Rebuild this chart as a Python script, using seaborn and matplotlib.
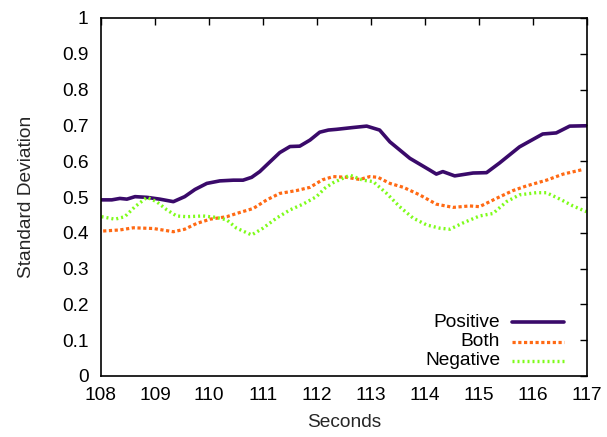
import matplotlib
matplotlib.use("Agg")
import matplotlib.pyplot as plt
from matplotlib.lines import Line2D
import seaborn as sns
import pandas as pd

pos_x = [108.01, 108.2, 108.35, 108.48, 108.63, 108.85, 109.09, 109.34, 109.55, 109.74, 109.96,
         110.2, 110.45, 110.63, 110.79, 110.94, 111.1, 111.31, 111.5, 111.68, 111.87, 112.05,
         112.21, 112.36, 112.66, 112.92, 113.16, 113.35, 113.72, 114.09, 114.21, 114.33, 114.55,
         114.89, 115.14, 115.38, 115.75, 116.18, 116.43, 116.68, 116.99]
pos_y = [0.492, 0.492, 0.496, 0.494, 0.501, 0.499, 0.494, 0.487, 0.501, 0.521, 0.538,
         0.545, 0.547, 0.547, 0.555, 0.571, 0.594, 0.624, 0.641, 0.642, 0.659, 0.681,
         0.687, 0.689, 0.694, 0.698, 0.687, 0.654, 0.608, 0.575, 0.564, 0.571, 0.559,
         0.567, 0.568, 0.595, 0.640, 0.676, 0.679, 0.698, 0.699]

both_x = [108.04, 108.35, 108.6, 108.97, 109.34, 109.55, 109.77, 110.02, 110.33, 110.51, 110.82,
          111.07, 111.31, 111.62, 111.87, 112.1, 112.3, 112.55, 112.79, 112.98, 113.13, 113.35,
          113.6, 113.9, 114.21, 114.52, 114.83, 115.01, 115.32, 115.63, 115.88, 116.25, 116.56,
          116.93]
both_y = [0.405, 0.408, 0.414, 0.412, 0.403, 0.410, 0.426, 0.438, 0.445, 0.454, 0.468,
          0.492, 0.510, 0.518, 0.527, 0.548, 0.557, 0.555, 0.549, 0.557, 0.555, 0.538,
          0.527, 0.506, 0.480, 0.471, 0.475, 0.473, 0.496, 0.518, 0.531, 0.547, 0.564,
          0.577]

neg_x = [108.01, 108.26, 108.44, 108.63, 108.85, 109.03, 109.22, 109.4, 109.59, 109.89, 110.14,
         110.33, 110.51, 110.79, 111.0, 111.25, 111.5, 111.74, 111.99, 112.15, 112.3, 112.61,
         112.85, 113.04, 113.29, 113.53, 113.78, 114.03, 114.27, 114.46, 114.71, 115.01, 115.26,
         115.51, 115.75, 116.06, 116.25, 116.5, 116.74, 116.99]
neg_y = [0.445, 0.438, 0.445, 0.473, 0.499, 0.487, 0.464, 0.447, 0.445, 0.447, 0.443,
         0.436, 0.413, 0.394, 0.413, 0.441, 0.464, 0.480, 0.501, 0.525, 0.540, 0.561,
         0.547, 0.543, 0.510, 0.473, 0.441, 0.422, 0.413, 0.410, 0.428, 0.447, 0.454,
         0.487, 0.506, 0.512, 0.512, 0.494, 0.475, 0.459]

series_names = ["Positive", "Both", "Negative"]
x_ticks = [108, 109, 110, 111, 112, 113, 114, 115, 116, 117]
y_ticks = [0, 0.1, 0.2, 0.3, 0.4, 0.5, 0.6, 0.7, 0.8, 0.9, 1]
y_tick_labels = ["0", "0.1", "0.2", "0.3", "0.4", "0.5", "0.6", "0.7", "0.8", "0.9", "1"]

df = pd.concat([
    pd.DataFrame({"Seconds": pos_x, "SD": pos_y, "Series": "Positive"}),
    pd.DataFrame({"Seconds": both_x, "SD": both_y, "Series": "Both"}),
    pd.DataFrame({"Seconds": neg_x, "SD": neg_y, "Series": "Negative"}),
])

sns.set_theme(style="white")
plt.rcParams['font.family'] = ['Liberation Sans', 'DejaVu Sans']

fig = plt.figure(figsize=(6.07, 4.37), dpi=100)
ax = fig.add_axes([101/607, (437-376)/437, (587-101)/607, (376-18)/437])

colors = {"Positive": "#3a0a6a", "Both": "#ff6a14", "Negative": "#7efc1a"}
styles = {
    "Positive": dict(lw=2.6, ls="-"),
    "Both": dict(lw=2.3, ls=(0, (1.0, 0.8))),
    "Negative": dict(lw=2.4, ls=(0, (0.6, 0.9))),
}
for name in series_names:
    sub = df[df["Series"] == name]
    sns.lineplot(data=sub, x="Seconds", y="SD", ax=ax, color=colors[name],
                 estimator=None, sort=False, legend=False,
                 linewidth=styles[name]["lw"], linestyle=styles[name]["ls"])
    ax.lines[-1].set_dash_capstyle("butt")
    ax.lines[-1].set_solid_joinstyle("round")
    ax.lines[-1].set_dash_joinstyle("round")

FS = 13.8
ax.set_xlim(108, 117)
ax.set_ylim(0, 1)
ax.set_xticks(x_ticks)
ax.set_xticklabels([str(t) for t in x_ticks])
ax.set_yticks(y_ticks)
ax.set_yticklabels(y_tick_labels)
ax.tick_params(direction="in", length=5, width=1, top=True, right=True,
               labelsize=FS, colors="black")
ax.tick_params(axis="x", pad=8)
ax.tick_params(axis="y", pad=9)
for s in ax.spines.values():
    s.set_color("black")
    s.set_linewidth(1.2)
ax.set_xlabel("Seconds", fontsize=FS, labelpad=7)
ax.set_ylabel("Standard Deviation", fontsize=FS, labelpad=19)

# legend (right-aligned labels, sample lines on the right), gnuplot style
leg_rows = [0.1508, 0.095, 0.0419]
for name, yy in zip(series_names, leg_rows):
    ln = Line2D([0.8457, 0.9527], [yy, yy], transform=ax.transAxes,
                color=colors[name], linewidth=styles[name]["lw"],
                linestyle=styles[name]["ls"])
    ln.set_dash_capstyle("butt")
    ax.add_line(ln)
    ax.text(0.821, yy, name, transform=ax.transAxes, ha="right", va="center",
            fontsize=FS, color="black")

fig.savefig("out.png", dpi=100)
